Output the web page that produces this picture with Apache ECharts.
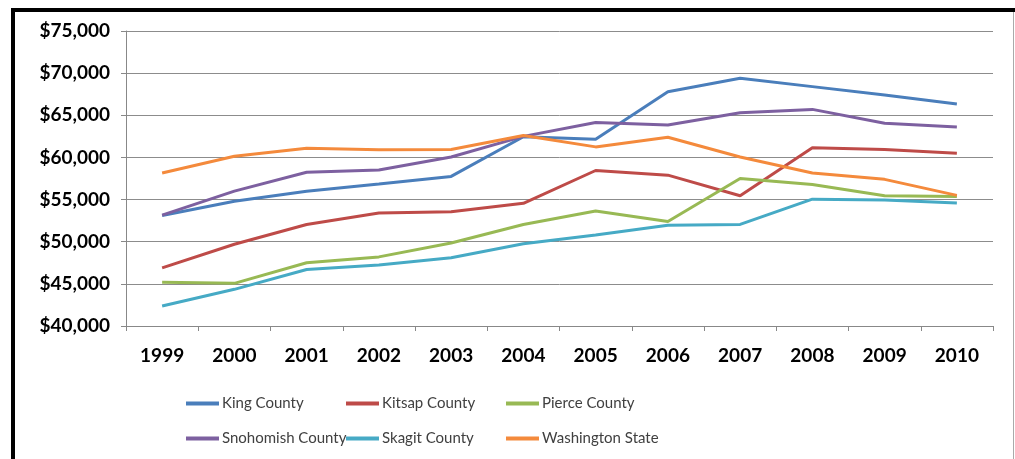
<!DOCTYPE html>
<html>
<head>
<meta charset="utf-8">
<script src="https://cdn.jsdelivr.net/npm/echarts@6/dist/echarts.min.js"></script>
<style>
html,body{margin:0;padding:0;background:#fff;}
#chart{width:1015px;height:459px;}
</style>
</head>
<body>
<div id="chart"></div>
<script>
const years = ['1999','2000','2001','2002','2003','2004','2005','2006','2007','2008','2009','2010'];
const seriesNames = ['King County','Kitsap County','Pierce County','Snohomish County','Skagit County','Washington State'];
const kingCounty      = [53100, 54800, 56000, 56850, 57750, 62450, 62150, 67800, 69400, 68400, 67400, 66350];
const kitsapCounty    = [46900, 49700, 52050, 53400, 53550, 54550, 58450, 57900, 55450, 61150, 60950, 60500];
const pierceCounty    = [45180, 45060, 47500, 48200, 49850, 52050, 53650, 52400, 57500, 56800, 55450, 55350];
const snohomishCounty = [53150, 56000, 58250, 58500, 60050, 62500, 64150, 63850, 65300, 65700, 64050, 63600];
const skagitCounty    = [42370, 44350, 46700, 47250, 48100, 49750, 50800, 51950, 52050, 55050, 54950, 54600];
const washingtonState = [58150, 60150, 61100, 60900, 60950, 62600, 61250, 62400, 60050, 58150, 57400, 55500];
const yTicks = [40000, 45000, 50000, 55000, 60000, 65000, 70000, 75000];
const colors = ['#4A7EBB','#BE4B48','#98B954','#7D60A0','#46AAC5','#F48A3C'];

const allData = [kingCounty, kitsapCounty, pierceCounty, snohomishCounty, skagitCounty, washingtonState];

const chart = echarts.init(document.getElementById('chart'));

const legendPos = [
  {left:186, top:396}, {left:346, top:396}, {left:506, top:396},
  {left:186, top:431}, {left:346, top:431}, {left:506, top:431}
];

const option = {
  animation: false,
  backgroundColor: '#fff',
  color: colors,
  grid: {left:126, right:22, top:31, bottom:133, containLabel:false},
  xAxis: {
    type: 'category',
    data: years,
    boundaryGap: true,
    axisLine: {lineStyle:{color:'#888', width:1}},
    axisTick: {show:true, length:5, lineStyle:{color:'#888'}},
    axisLabel: {color:'#000', fontFamily:'Lato', fontWeight:'bold', fontSize:19, margin:20}
  },
  yAxis: {
    type: 'value',
    min: yTicks[0],
    max: yTicks[yTicks.length-1],
    interval: 5000,
    axisLine: {show:true, lineStyle:{color:'#888', width:1}},
    axisTick: {show:true, length:5, lineStyle:{color:'#888'}},
    splitLine: {lineStyle:{color:'#8c8c8c', width:1}},
    axisLabel: {
      color:'#000', fontFamily:'Lato', fontWeight:'bold', fontSize:19, margin:16,
      formatter: v => '$' + v.toLocaleString('en-US')
    }
  },
  legend: seriesNames.map((n, i) => ({
    data: [n],
    left: legendPos[i].left,
    top: legendPos[i].top,
    itemWidth: 33,
    itemHeight: 4,
    itemGap: 0,
    icon: 'rect',
    textStyle: {color:'#404040', fontFamily:'Lato', fontSize:15, padding:[0,0,0,-2]},
    padding: 0
  })),
  series: seriesNames.map((n, i) => ({
    name: n,
    type: 'line',
    data: allData[i],
    symbol: 'none',
    lineStyle: {width: 3, color: colors[i]},
    itemStyle: {color: colors[i]}
  })),
  graphic: [
    {type:'line', shape:{x1:13, y1:8, x2:13, y2:459}, style:{stroke:'#000', lineWidth:4}},
    {type:'line', shape:{x1:11, y1:10, x2:1015, y2:10}, style:{stroke:'#000', lineWidth:4}},
    {type:'line', shape:{x1:1013.5, y1:12, x2:1013.5, y2:459}, style:{stroke:'#aaa', lineWidth:1}}
  ]
};
chart.setOption(option);
</script>
</body>
</html>
